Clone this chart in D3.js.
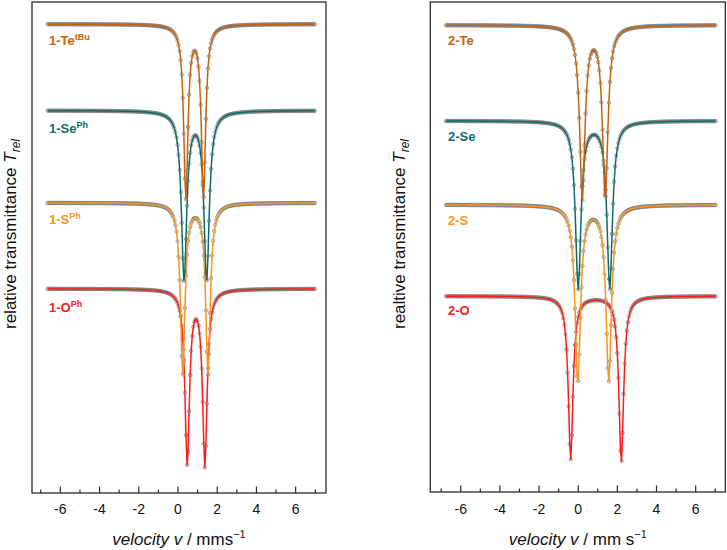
<!DOCTYPE html>
<html>
<head>
<meta charset="utf-8">
<script src="https://cdn.jsdelivr.net/npm/d3@7"></script>
<style>
  html, body { margin: 0; padding: 0; background: #fff; }
  svg { display: block; font-family: "Liberation Sans", Arial, sans-serif; }
</style>
</head>
<body>
<svg id="chart" width="727" height="550"></svg>
<script>
// ---------- data (Lorentzian doublet fits) ----------
// relative transmittance in arbitrary stacked units (0..100 over plot height)
const leftNames     = ["1-Te", "1-Se", "1-S", "1-O"];
const leftSups      = ["tBu", "Ph", "Ph", "Ph"];
const leftBaseline  = [95.5, 77.9, 59.1, 41.6];
const leftLineA     = [0.40, 0.31, 0.24, 0.47];   // mm/s
const leftLineB     = [1.30, 1.46, 1.53, 1.37];   // mm/s
const leftDepthA    = [35.0, 34.2, 34.6, 35.3];
const leftDepthB    = [35.0, 34.2, 34.6, 35.6];
const leftHalfWidth = [0.130, 0.162, 0.139, 0.139];
const leftVelRange  = [-6.65, 6.98];

const rightNames     = ["2-Te", "2-Se", "2-S", "2-O"];
const rightSups      = ["", "", "", ""];
const rightBaseline  = [95.3, 75.8, 58.7, 40.1];
const rightLineA     = [0.21, 0.00, -0.02, -0.385];
const rightLineB     = [1.38, 1.61, 1.56, 2.20];
const rightDepthA    = [35.0, 34.0, 36.0, 33.2];
const rightDepthB    = [35.0, 34.0, 35.6, 33.8];
const rightHalfWidth = [0.164, 0.168, 0.166, 0.145];
const rightVelRange  = [-6.75, 7.02];

const seriesColors = ["#c5620f", "#0f6b6b", "#f7941d", "#fb1c1c"];
const majorTicks = [-6, -4, -2, 0, 2, 4, 6];
const minorTicks = [-7, -5, -3, -1, 1, 3, 5, 7];
const nChannels = 256;

// ---------- drawing ----------
const svg = d3.select("#chart");
const y = d3.scaleLinear().domain([0, 100]).range([493, 2]);

function lorentz(v, c, g) { return g * g / ((v - c) * (v - c) + g * g); }

function panel(opt) {
  const x = d3.scaleLinear().domain(opt.domain).range([opt.x0, opt.x1]);
  const g = svg.append("g");
  const vel = d3.range(nChannels).map(i => opt.vel[0] + i * (opt.vel[1] - opt.vel[0]) / (nChannels - 1));

  const line = d3.line().x(d => x(d[0])).y(d => y(d[1]));
  for (let i = opt.names.length - 1; i >= 0; i--) {
    const pts = vel.map(v => [v,
      opt.base[i] - opt.dA[i] * lorentz(v, opt.cA[i], opt.w[i]) - opt.dB[i] * lorentz(v, opt.cB[i], opt.w[i])]);
    g.append("g").selectAll("circle").data(pts).join("circle")
      .attr("cx", d => x(d[0])).attr("cy", d => y(d[1])).attr("r", 1.7)
      .attr("fill", "none").attr("stroke", "#7a7a7a").attr("stroke-width", 0.7);
    g.append("path").datum(pts).attr("d", line)
      .attr("fill", "none").attr("stroke", seriesColors[i]).attr("stroke-width", 1.5)
      .attr("stroke-linejoin", "round");
  }

  // labels
  opt.names.forEach((n, i) => {
    const t = g.append("text").attr("x", opt.labelX).attr("y", opt.labelY[i])
      .attr("fill", seriesColors[i]).attr("font-weight", "bold").attr("font-size", 13).text(n);
    if (opt.sups[i]) t.append("tspan").attr("dy", -5).attr("font-size", 9).text(opt.sups[i]);
  });

  // frame
  g.append("rect").attr("x", opt.x0).attr("y", 2).attr("width", opt.x1 - opt.x0).attr("height", opt.yb - 2)
    .attr("fill", "none").attr("stroke", "#2b2b2b").attr("stroke-width", 1.3);

  // ticks (inward)
  g.selectAll(".maj").data(majorTicks).join("line")
    .attr("x1", d => x(d)).attr("x2", d => x(d)).attr("y1", opt.yb).attr("y2", opt.yb - 6.5)
    .attr("stroke", "#2b2b2b").attr("stroke-width", 1.2);
  g.selectAll(".min").data(minorTicks).join("line")
    .attr("x1", d => x(d)).attr("x2", d => x(d)).attr("y1", opt.yb).attr("y2", opt.yb - 3.5)
    .attr("stroke", "#2b2b2b").attr("stroke-width", 1.2);
  g.selectAll(".tl").data(majorTicks).join("text")
    .attr("x", d => x(d)).attr("y", 514).attr("text-anchor", "middle")
    .attr("font-size", 14).attr("fill", "#111")
    .text(d => (d < 0 ? "-" : "") + Math.abs(d));

  // x label
  const xl = g.append("text").attr("x", (opt.x0 + opt.x1) / 2).attr("y", 545)
    .attr("text-anchor", "middle").attr("font-size", 17).attr("fill", "#111");
  xl.append("tspan").attr("font-style", "italic").text("velocity v");
  xl.append("tspan").text(opt.unit);
  xl.append("tspan").attr("dy", -7).attr("font-size", 11).text("\u22121");

  // y label
  const yl = g.append("text").attr("transform", `translate(${opt.ylabX},234) rotate(-90)`)
    .attr("text-anchor", "middle").attr("font-size", 17).attr("fill", "#111");
  yl.append("tspan").text(opt.ytext + " ");
  yl.append("tspan").attr("font-style", "italic").text("T");
  yl.append("tspan").attr("font-style", "italic").attr("font-size", 12).attr("dy", 4).text("rel");
}

panel({
  names: leftNames, sups: leftSups, base: leftBaseline, cA: leftLineA, cB: leftLineB,
  dA: leftDepthA, dB: leftDepthB, w: leftHalfWidth, vel: leftVelRange,
  domain: [-7.445, 7.547], x0: 32, x1: 326, yb: 493,
  labelX: 49, labelY: [45, 133, 224, 312],
  unit: " / mms", ytext: "relative transmittance", ylabX: 16
});
panel({
  names: rightNames, sups: rightSups, base: rightBaseline, cA: rightLineA, cB: rightLineB,
  dA: rightDepthA, dB: rightDepthB, w: rightHalfWidth, vel: rightVelRange,
  domain: [-7.554, 7.513], x0: 430.3, x1: 725.3, yb: 492,
  labelX: 448, labelY: [45, 141, 225, 315],
  unit: " / mm s", ytext: "realtive transmittance", ylabX: 405
});
</script>
</body>
</html>
